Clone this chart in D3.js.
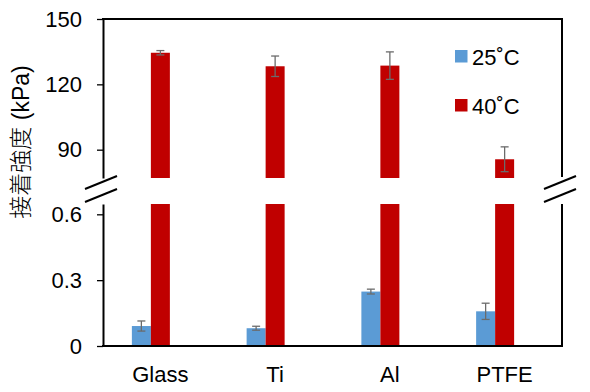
<!DOCTYPE html>
<html>
<head>
<meta charset="utf-8">
<script src="https://cdn.jsdelivr.net/npm/d3@7"></script>
<style>
html,body{margin:0;padding:0;background:#fff;}
svg{display:block;font-family:"Liberation Sans",Arial,sans-serif;}
</style>
</head>
<body>
<svg id="chart" width="590" height="392"></svg>
<script>
const categories = ["Glass", "Ti", "Al", "PTFE"];
const seriesNames = ["25˚C", "40˚C"];
const values25 = [0.091, 0.081, 0.248, 0.158];
const errors25 = [0.023, 0.009, 0.011, 0.037];
const values40 = [134.5, 128.3, 128.6, 85.6];
const errors40 = [1.0, 4.7, 6.3, 5.7];
const upperTicks = [90, 120, 150];
const lowerTicks = [0, 0.3, 0.6];
const colors = ["#5B9BD5", "#C00000"];

(function () {
const svg = d3.select("#chart");
const pLeft = 103, pRight = 562, pTop = 19;
const upperBottom = 178, lowerTop = 204, pBottom = 346;

const x = d3.scaleBand().domain(categories).range([pLeft, pRight]);
const xs = d3.scaleBand().domain(["s0", "s1", "s2"]).range([-28.5, 28.5]);
const yHigh = d3.scaleLinear().domain([77, 150]).range([upperBottom, pTop]);
const yLow = d3.scaleLinear().domain([0, 0.647]).range([pBottom, lowerTop]);

const cx = c => x(c) + x.bandwidth() / 2;

const defs = svg.append("defs");
defs.append("clipPath").attr("id", "clipU").append("rect")
  .attr("x", pLeft).attr("y", pTop).attr("width", pRight - pLeft).attr("height", upperBottom - pTop);
defs.append("clipPath").attr("id", "clipL").append("rect")
  .attr("x", pLeft).attr("y", lowerTop).attr("width", pRight - pLeft).attr("height", pBottom - lowerTop);

// Lower panel bars
const gL = svg.append("g").attr("clip-path", "url(#clipL)");
gL.selectAll("rect.b25").data(categories).join("rect")
  .attr("class", "b25")
  .attr("x", (c) => cx(c) + xs("s0")).attr("width", xs.bandwidth())
  .attr("y", (c, i) => yLow(values25[i])).attr("height", (c, i) => yLow(0) - yLow(values25[i]))
  .attr("fill", colors[0]);
gL.selectAll("rect.b40").data(categories).join("rect")
  .attr("class", "b40")
  .attr("x", (c) => cx(c) + xs("s1")).attr("width", xs.bandwidth())
  .attr("y", yLow(yLow.domain()[1])).attr("height", yLow(0) - yLow(yLow.domain()[1]))
  .attr("fill", colors[1]);

// Upper panel bars
const gU = svg.append("g").attr("clip-path", "url(#clipU)");
gU.selectAll("rect").data(categories).join("rect")
  .attr("x", (c) => cx(c) + xs("s1")).attr("width", xs.bandwidth())
  .attr("y", (c, i) => yHigh(values40[i])).attr("height", (c, i) => upperBottom - yHigh(values40[i]))
  .attr("fill", colors[1]);

// Error bars
function errBar(g, xc, y0, y1) {
  const col = "#6b6b6b";
  g.append("line").attr("x1", xc).attr("x2", xc).attr("y1", y0).attr("y2", y1)
    .attr("stroke", col).attr("stroke-width", 1.3);
  [y0, y1].forEach(yy => g.append("line").attr("x1", xc - 4).attr("x2", xc + 4)
    .attr("y1", yy).attr("y2", yy).attr("stroke", col).attr("stroke-width", 1.3));
}
const gE = svg.append("g");
categories.forEach((c, i) => {
  const xb = cx(c) + xs("s0") + xs.bandwidth() / 2;
  errBar(gE, xb, yLow(values25[i] + errors25[i]), yLow(values25[i] - errors25[i]));
  const xr = cx(c) + xs("s1") + xs.bandwidth() / 2;
  errBar(gE, xr, yHigh(values40[i] + errors40[i]), yHigh(values40[i] - errors40[i]));
});

// Axes
const fmt = d => d === 0 ? "0" : (Number.isInteger(d) ? String(d) : d.toFixed(1));
function styleAxis(g) {
  g.select(".domain").attr("stroke", "#000").attr("stroke-width", 2);
  g.selectAll(".tick line").attr("stroke", "#000").attr("stroke-width", 1.3);
  g.selectAll(".tick text").attr("font-size", 22).attr("fill", "#000")
    .attr("font-family", "'Liberation Sans', Arial, sans-serif").attr("x", -21);
}
svg.append("g").attr("transform", `translate(${pLeft},0)`)
  .call(d3.axisLeft(yHigh).tickValues(upperTicks).tickFormat(fmt).tickSize(6).tickSizeOuter(0))
  .call(styleAxis);
svg.append("g").attr("transform", `translate(${pLeft},0)`)
  .call(d3.axisLeft(yLow).tickValues(lowerTicks).tickFormat(fmt).tickSize(6).tickSizeOuter(0))
  .call(styleAxis);

// Right frame
svg.append("line").attr("x1", pRight).attr("x2", pRight).attr("y1", pTop).attr("y2", upperBottom - 1)
  .attr("stroke", "#000").attr("stroke-width", 2);
svg.append("line").attr("x1", pRight).attr("x2", pRight).attr("y1", lowerTop).attr("y2", pBottom)
  .attr("stroke", "#000").attr("stroke-width", 2);
svg.append("line").attr("x1", pLeft - 1).attr("x2", pRight + 1).attr("y1", pTop).attr("y2", pTop)
  .attr("stroke", "#000").attr("stroke-width", 2);
svg.append("line").attr("x1", pLeft - 1).attr("x2", pRight + 1).attr("y1", pBottom).attr("y2", pBottom)
  .attr("stroke", "#000").attr("stroke-width", 2);

// Break marks
[pLeft, pRight].forEach(ax => {
  [[-18, 189, 14, 176], [-18, 202, 14, 189]].forEach(([dx1, y1, dx2, y2]) => {
    svg.append("line").attr("x1", ax + dx1).attr("y1", y1).attr("x2", ax + dx2).attr("y2", y2)
      .attr("stroke", "#000").attr("stroke-width", 2);
  });
});

// Category labels
svg.append("g").selectAll("text").data(categories).join("text")
  .attr("x", c => cx(c)).attr("y", 382).attr("text-anchor", "middle")
  .attr("font-size", 22).attr("fill", "#000").text(c => c);

// Y title
svg.append("text")
  .attr("transform", "translate(29,142) rotate(-90)")
  .attr("text-anchor", "middle")
  .attr("font-size", 23).attr("fill", "#000").attr("font-weight", 300)
  .attr("font-family", "'Liberation Sans', 'Noto Sans CJK JP', sans-serif")
  .text("接着強度 (kPa)");

// Legend
const leg = svg.append("g");
seriesNames.forEach((s, i) => {
  const yy = 50 + i * 49;
  leg.append("rect").attr("x", 455).attr("y", yy).attr("width", 12.5).attr("height", 12.5).attr("fill", colors[i]);
  leg.append("text").attr("x", 472).attr("y", yy + 15).attr("font-size", 22).attr("fill", "#000").text(s);
});
})();
</script>
</body>
</html>
